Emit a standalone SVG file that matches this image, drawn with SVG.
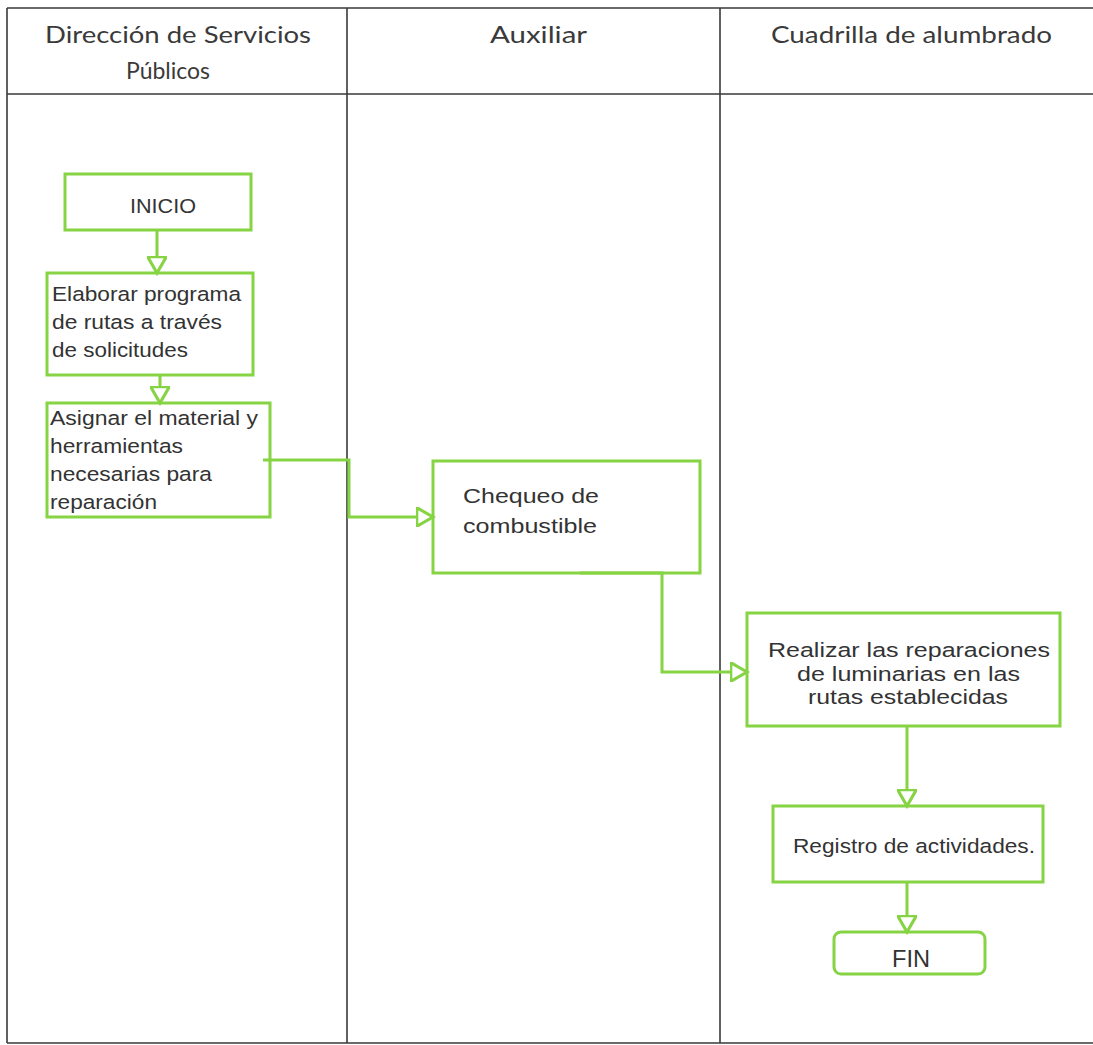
<svg xmlns="http://www.w3.org/2000/svg" width="1093" height="1045" viewBox="0 0 1093 1045">
<style>
.grid{stroke:#3a3a3a;stroke-width:1.6;fill:none}
.hdr{font-family:Lato,"Liberation Sans",sans-serif;font-size:24px;fill:#3a3a3a}
.box{fill:#fff;stroke:#86d343;stroke-width:3}
.t{font-family:"Liberation Sans",Arial,sans-serif;font-size:20.5px;fill:#333}
.con{fill:none;stroke:#86d343;stroke-width:3}
</style>
<defs>
<marker id="arr" markerUnits="userSpaceOnUse" markerWidth="20" markerHeight="20" refX="14" refY="8" orient="auto" viewBox="0 0 16 16">
<path d="M1,0.5 L14,8 L1,15.5 Z" fill="#fff" stroke="#86d343" stroke-width="2.5"/>
</marker>
</defs>
<rect width="1093" height="1045" fill="#fff"/>
<g id="table">
<path class="grid" d="M7 8 H1093 M7 94 H1093 M7 1043 H1093 M7 8 V1043 M347 8 V1043 M720 8 V1043"/>
<text class="hdr" x="45" y="43" textLength="266" lengthAdjust="spacingAndGlyphs">Dirección de Servicios</text>
<text class="hdr" x="126" y="79" textLength="84" lengthAdjust="spacingAndGlyphs">Públicos</text>
<text class="hdr" x="490" y="43" textLength="97" lengthAdjust="spacingAndGlyphs">Auxiliar</text>
<text class="hdr" x="771" y="43" textLength="281" lengthAdjust="spacingAndGlyphs">Cuadrilla de alumbrado</text>
</g>
<g id="inicio">
<rect class="box" x="65" y="174" width="186" height="56"/>
<text class="t" x="130" y="213" textLength="66" lengthAdjust="spacingAndGlyphs">INICIO</text>
</g>
<g id="elaborar">
<rect class="box" x="47" y="273" width="206" height="102"/>
<text class="t" x="52" y="301" textLength="189" lengthAdjust="spacingAndGlyphs">Elaborar programa</text>
<text class="t" x="52" y="329" textLength="170" lengthAdjust="spacingAndGlyphs">de rutas a través</text>
<text class="t" x="52" y="357" textLength="136" lengthAdjust="spacingAndGlyphs">de solicitudes</text>
</g>
<g id="asignar">
<rect class="box" x="47" y="403" width="223" height="114"/>
<text class="t" x="50" y="425" textLength="208" lengthAdjust="spacingAndGlyphs">Asignar el material y</text>
<text class="t" x="50" y="453" textLength="133" lengthAdjust="spacingAndGlyphs">herramientas</text>
<text class="t" x="50" y="481" textLength="162" lengthAdjust="spacingAndGlyphs">necesarias para</text>
<text class="t" x="50" y="509" textLength="107" lengthAdjust="spacingAndGlyphs">reparación</text>
</g>
<g id="chequeo">
<rect class="box" x="433" y="461" width="267" height="112"/>
<text class="t" x="463" y="503" textLength="136" lengthAdjust="spacingAndGlyphs">Chequeo de</text>
<text class="t" x="463" y="533" textLength="134" lengthAdjust="spacingAndGlyphs">combustible</text>
</g>
<g id="realizar">
<rect class="box" x="747" y="613" width="313" height="113"/>
<text class="t" x="768" y="657" textLength="282" lengthAdjust="spacingAndGlyphs">Realizar las reparaciones</text>
<text class="t" x="797" y="681" textLength="223" lengthAdjust="spacingAndGlyphs">de luminarias en las</text>
<text class="t" x="808" y="704" textLength="200" lengthAdjust="spacingAndGlyphs">rutas establecidas</text>
</g>
<g id="registro">
<rect class="box" x="773" y="806" width="270" height="76"/>
<text class="t" x="793" y="853" textLength="242" lengthAdjust="spacingAndGlyphs">Registro de actividades.</text>
</g>
<g id="fin">
<rect class="box" x="834" y="932" width="151" height="42" rx="7"/>
<text class="t" x="892" y="967" textLength="38" lengthAdjust="spacingAndGlyphs" style="font-size:23px">FIN</text>
</g>
<g id="connectors">
<path class="con" d="M157 230 V273" marker-end="url(#arr)"/>
<path class="con" d="M160 375 V403" marker-end="url(#arr)"/>
<path class="con" d="M263 460 H349 V517 H433" marker-end="url(#arr)"/>
<path class="con" d="M580 573 H662 V672 H747" marker-end="url(#arr)"/>
<path class="con" d="M907 726 V806" marker-end="url(#arr)"/>
<path class="con" d="M907 882 V932" marker-end="url(#arr)"/>
</g>
</svg>
